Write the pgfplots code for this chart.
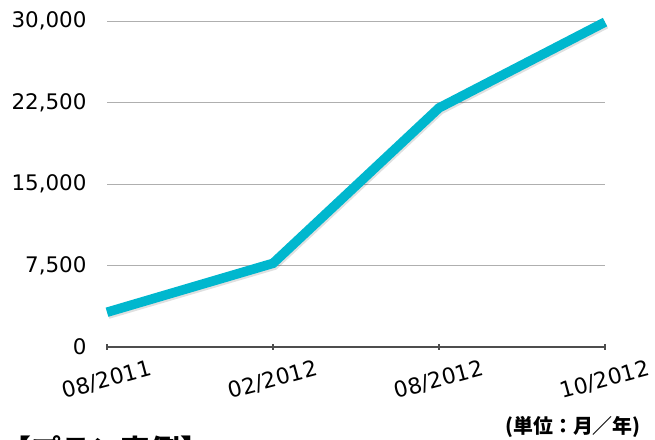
\documentclass[border=0pt]{standalone}
\usepackage{fontspec}
\setmainfont{Noto Sans CJK JP}
\newfontfamily\numfont{DejaVu Sans}
\usepackage{pgfplots}
\pgfplotsset{compat=1.18}
\definecolor{linecyan}{RGB}{0,183,206}
\definecolor{axisgray}{RGB}{77,77,77}
\definecolor{gridgray}{RGB}{175,175,175}
\begin{document}
\begin{tikzpicture}[x=1bp,y=1bp]
\useasboundingbox (0,0) rectangle (655,440);
\begin{axis}[
  at={(107bp,93bp)}, anchor=south west,
  scale only axis, width=498bp, height=326bp,
  xmin=0, xmax=3, ymin=0, ymax=30000,
  clip=false,
  axis x line*=bottom, axis y line*=left,
  y axis line style={draw=none},
  x axis line style={draw=axisgray, line width=2bp, -},
  ymajorgrids, grid style={gridgray, line width=0.8bp},
  ytick={0,7500,15000,22500,30000},
  scaled y ticks=false,
  ytick style={draw=none},
  xtick={0,1,2,3},
  xticklabels={08/2011,02/2012,08/2012,10/2012},
  xtick style={draw=axisgray, line width=1.2bp},
  tick align=center, major tick length=6bp,
  /pgf/number format/assume math mode=true,
  /pgf/number format/1000 sep={,},
  yticklabel style={font=\numfont\fontsize{21.5}{26}\selectfont, anchor=east, xshift=-14bp},
  xticklabel style={font=\numfont\fontsize{22}{26}\selectfont, rotate=15, anchor=center},
  xticklabel shift=30bp,
]
\addplot[black, opacity=0.12, line width=9.5bp, xshift=1bp, yshift=-2bp] coordinates {(0,3200) (1,7700) (2,22000) (3,29900)};
\addplot[linecyan, line width=9.5bp, line join=miter] coordinates {(0,3200) (1,7700) (2,22000) (3,29900)};
\end{axis}
\node[anchor=base west, font=\bfseries\fontsize{30}{34}\selectfont, inner sep=0] at (1,-22) {【プラン実例】};
\node[anchor=base east, font=\bfseries\fontsize{20}{24}\selectfont, inner sep=0] at (641,6) {(単位：月／年)};
\end{tikzpicture}
\end{document}
